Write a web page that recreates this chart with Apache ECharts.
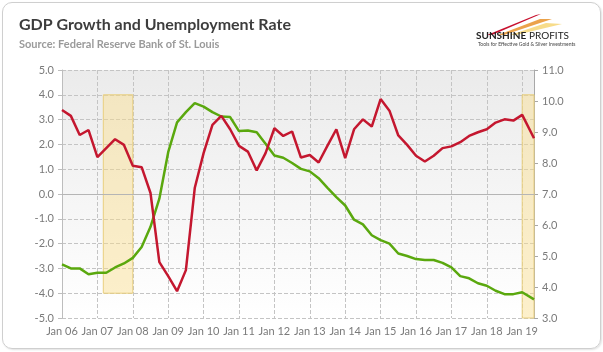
<!DOCTYPE html>
<html>
<head>
<meta charset="utf-8">
<script src="https://cdn.jsdelivr.net/npm/echarts@6/dist/echarts.min.js"></script>
<style>
  html, body { margin: 0; padding: 0; background: #fff; }
  #card {
    position: absolute; left: 2px; top: 2px; width: 597px; height: 345px;
    border: 1px solid #cfcfcf; border-radius: 10px; box-shadow: 1px 1px 2px rgba(0,0,0,0.12);
  }
  #chart { position: absolute; left: 0; top: 0; width: 603px; height: 352px; }
</style>
</head>
<body>
<div id="card"></div>
<div id="chart"></div>
<script>
// quarterly observations (last one is the latest reading)
const dates = [
  '2006-01', '2006-04', '2006-07', '2006-10',
  '2007-01', '2007-04', '2007-07', '2007-10',
  '2008-01', '2008-04', '2008-07', '2008-10',
  '2009-01', '2009-04', '2009-07', '2009-10',
  '2010-01', '2010-04', '2010-07', '2010-10',
  '2011-01', '2011-04', '2011-07', '2011-10',
  '2012-01', '2012-04', '2012-07', '2012-10',
  '2013-01', '2013-04', '2013-07', '2013-10',
  '2014-01', '2014-04', '2014-07', '2014-10',
  '2015-01', '2015-04', '2015-07', '2015-10',
  '2016-01', '2016-04', '2016-07', '2016-10',
  '2017-01', '2017-04', '2017-07', '2017-10',
  '2018-01', '2018-04', '2018-07', '2018-10',
  '2019-01', '2019-05'
]
const gdpGrowth = [
  3.39, 3.15, 2.38, 2.58,
  1.49, 1.85, 2.21, 1.98,
  1.14, 1.08, 0.04, -2.75,
  -3.31, -3.92, -3.07, 0.24,
  1.65, 2.79, 3.15, 2.61,
  1.94, 1.71, 0.95, 1.65,
  2.65, 2.34, 2.52, 1.47,
  1.57, 1.27, 1.95, 2.61,
  1.45, 2.61, 3.01, 2.72,
  3.83, 3.36, 2.36, 1.98,
  1.54, 1.31, 1.54, 1.85,
  1.92, 2.09, 2.34, 2.49,
  2.61, 2.88, 3.01, 2.96,
  3.19, 2.25
]
const unemployment = [
  4.73, 4.60, 4.60, 4.41,
  4.46, 4.46, 4.63, 4.76,
  4.94, 5.29, 5.94, 6.85,
  8.35, 9.31, 9.64, 9.93,
  9.82, 9.64, 9.50, 9.48,
  9.03, 9.05, 8.99, 8.62,
  8.24, 8.17, 8.00, 7.81,
  7.73, 7.51, 7.20, 6.90,
  6.63, 6.17, 6.02, 5.67,
  5.51, 5.40, 5.08, 5.00,
  4.90, 4.87, 4.87, 4.78,
  4.63, 4.35, 4.28, 4.12,
  4.04, 3.88, 3.77, 3.77,
  3.83, 3.60
]
// shaded periods: [start, end, yFrom, yTo] on the left axis
const shaded = [
  ['2007-03', '2008-01', -4, 4],
  ['2019-01', '2019-05', -5, 4]
]

const start = 2006
const toMonth = (d) => {
  const [y, m] = d.split('-').map(Number)
  return (y - start) * 12 + (m - 1)
}
const xMax = toMonth(dates[dates.length - 1])

const font = 'Lato, "Open Sans", sans-serif'
const labelColor = '#7a7a7a'
const gridColor = '#c4c4c4'

const chart = echarts.init(document.getElementById('chart'))

chart.setOption({
  animation: false,
  textStyle: { fontFamily: font },
  grid: {
    left: 62, right: 69, top: 70, bottom: 34,
    show: true,
    borderWidth: 0,
    backgroundColor: new echarts.graphic.LinearGradient(0, 0, 0, 1, [
      { offset: 0, color: '#ebebeb' },
      { offset: 1, color: '#ffffff' }
    ])
  },
  graphic: [
    { type: 'text', left: 19, top: 17, style: { text: 'GDP Growth and Unemployment Rate', font: 'bold 16px ' + font, fill: '#3d3d3d' } },
    { type: 'text', left: 19, top: 39, style: { text: 'Source: Federal Reserve Bank of St. Louis', font: 'bold 11px ' + font, fill: '#9a9a9a' } },
    // logo
    { type: 'polygon', shape: { points: [[487, 35], [536, 15], [541, 14], [492, 35]] }, style: { fill: '#c8102e' } },
    { type: 'polygon', shape: { points: [[498, 35], [540, 19], [552, 19], [504, 35]] }, style: { fill: '#e8922a', opacity: 0.85 } },
    { type: 'polygon', shape: { points: [[510, 35], [546, 23], [562, 24], [516, 35]] }, style: { fill: '#f2c94c', opacity: 0.65 } },
    { type: 'text', left: 476, top: 31, style: { text: 'SUNSHINE', font: 'bold 10px ' + font, fill: '#222' } },
    { type: 'text', left: 529, top: 31, style: { text: 'PROFITS', font: '10px ' + font, fill: '#222' } },
    { type: 'text', left: 478, top: 42, style: { text: 'Tools for Effective Gold & Silver Investments', font: '5px ' + font, fill: '#444' } }
  ],
  xAxis: {
    type: 'value',
    min: 0,
    max: xMax,
    interval: 12,
    axisLine: { show: true, lineStyle: { color: gridColor, type: 'dashed' } },
    axisTick: { show: false },
    axisLabel: {
      color: labelColor, fontSize: 11, margin: 8,
      formatter: (v) => (v % 12 === 0 ? 'Jan ' + String(start % 100 + v / 12).padStart(2, '0') : '')
    },
    splitLine: { show: true, lineStyle: { color: gridColor, type: 'dashed' } }
  },
  yAxis: [
    {
      type: 'value',
      min: -5, max: 5, interval: 1,
      axisLine: { show: true, lineStyle: { color: '#bdbdbd' } },
      axisTick: { show: true, length: 4, lineStyle: { color: '#bdbdbd' } },
      axisLabel: { color: labelColor, fontSize: 11, margin: 8, formatter: (v) => v.toFixed(1) },
      splitLine: { show: true, lineStyle: { color: gridColor, type: 'dashed' } }
    },
    {
      type: 'value',
      min: 3, max: 11, interval: 1,
      position: 'right',
      axisLine: { show: true, lineStyle: { color: '#a8a8a8' } },
      axisTick: { show: true, length: 4, lineStyle: { color: '#a8a8a8' } },
      axisLabel: { color: labelColor, fontSize: 11, margin: 8, formatter: (v) => v.toFixed(1) },
      splitLine: { show: false }
    }
  ],
  series: [
    {
      name: 'Unemployment rate',
      type: 'line',
      yAxisIndex: 1,
      data: dates.map((d, i) => [toMonth(d), unemployment[i]]),
      symbol: 'none',
      lineStyle: { color: '#5aa80e', width: 2.5 },
      z: 3
    },
    {
      name: 'GDP growth',
      type: 'line',
      yAxisIndex: 0,
      data: dates.map((d, i) => [toMonth(d), gdpGrowth[i]]),
      symbol: 'none',
      lineStyle: { color: '#c4172f', width: 2.5 },
      z: 4,
      markLine: {
        silent: true,
        symbol: 'none',
        label: { show: false },
        lineStyle: { color: '#b5b5b5', type: 'solid', width: 1 },
        data: [{ yAxis: 0 }],
        z: 1
      },
      markArea: {
        silent: true,
        itemStyle: { color: 'rgba(250, 222, 140, 0.45)', borderColor: '#e9cf7e', borderWidth: 1 },
        data: shaded.map((s) => [
          { xAxis: toMonth(s[0]), yAxis: s[3] },
          { xAxis: toMonth(s[1]), yAxis: s[2] }
        ])
      }
    }
  ]
})
</script>
</body>
</html>
